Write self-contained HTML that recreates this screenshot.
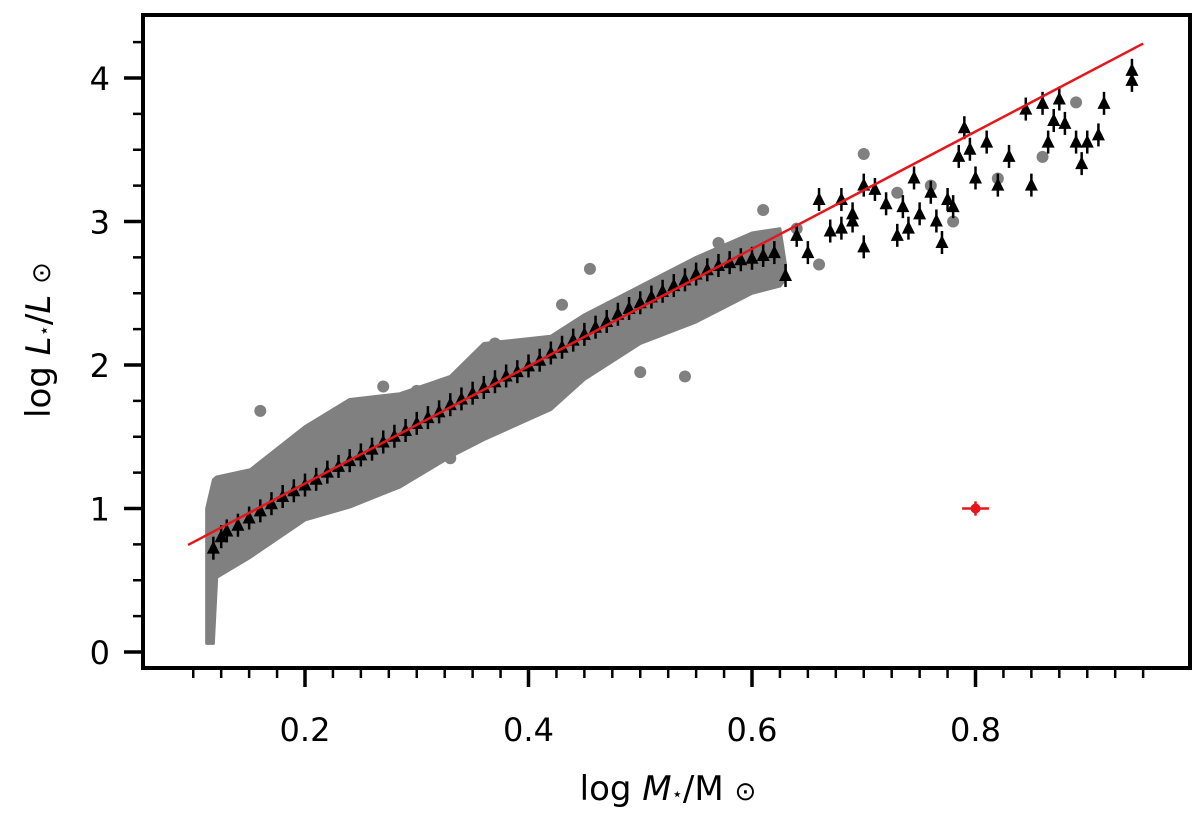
<!DOCTYPE html>
<html><head><meta charset="utf-8"><style>
body{margin:0;background:#fff;width:1200px;height:813px;overflow:hidden;font-family:"DejaVu Sans","Liberation Sans",sans-serif}
</style></head><body>
<svg id="chart" width="1200" height="813" xmlns="http://www.w3.org/2000/svg" font-family="DejaVu Sans, Liberation Sans, sans-serif"></svg>
<script>
const xTicks=[0.2,0.4,0.6,0.8];
const yTicks=[0,1,2,3,4];
const bandX=[0.112,0.118,0.121,0.151,0.2,0.24,0.285,0.33,0.36,0.42,0.45,0.5,0.55,0.6,0.625,0.63];
const bandTop=[1.0,1.2,1.22,1.27,1.57,1.76,1.8,1.92,2.15,2.2,2.35,2.55,2.75,2.92,2.95,2.7];
const bandBot=[0.06,0.06,0.52,0.66,0.92,1.01,1.15,1.36,1.48,1.69,1.9,2.15,2.3,2.5,2.55,2.6];
const grayX=[0.16,0.27,0.43,0.455,0.5,0.54,0.7,0.61,0.89,0.86,0.73,0.76,0.78,0.82,0.64,0.66,0.37,0.33,0.57,0.25,0.3];
const grayY=[1.68,1.85,2.42,2.67,1.95,1.92,3.47,3.08,3.83,3.45,3.2,3.25,3.0,3.3,2.95,2.7,2.15,1.35,2.85,1.7,1.82];
const triX=[0.118,0.125,0.13,0.14,0.15,0.16,0.17,0.18,0.19,0.2,0.21,0.22,0.23,0.24,0.25,0.26,0.27,0.28,0.29,0.3,0.31,0.32,0.33,0.34,0.35,0.36,0.37,0.38,0.39,0.4,0.41,0.42,0.43,0.44,0.45,0.46,0.47,0.48,0.49,0.5,0.51,0.52,0.53,0.54,0.55,0.56,0.57,0.58,0.59,0.6,0.61,0.62,0.63,0.64,0.65,0.66,0.67,0.68,0.68,0.69,0.69,0.7,0.7,0.71,0.72,0.73,0.735,0.74,0.745,0.75,0.76,0.765,0.77,0.775,0.78,0.785,0.79,0.795,0.8,0.81,0.82,0.83,0.845,0.85,0.86,0.865,0.87,0.875,0.88,0.89,0.895,0.9,0.91,0.915,0.94,0.94];
const triY=[0.72,0.8,0.84,0.88,0.93,0.98,1.03,1.08,1.12,1.16,1.2,1.25,1.29,1.33,1.37,1.41,1.46,1.5,1.54,1.59,1.63,1.67,1.72,1.76,1.8,1.84,1.88,1.92,1.95,1.99,2.03,2.08,2.12,2.17,2.21,2.26,2.3,2.35,2.39,2.43,2.47,2.51,2.55,2.59,2.63,2.66,2.69,2.71,2.73,2.74,2.76,2.78,2.62,2.9,2.78,3.15,2.93,2.95,3.15,3.05,3.0,2.82,3.25,3.22,3.12,2.9,3.1,2.95,3.3,3.05,3.2,3.0,2.85,3.15,3.1,3.45,3.65,3.5,3.3,3.55,3.25,3.45,3.78,3.25,3.82,3.55,3.7,3.85,3.68,3.55,3.4,3.55,3.6,3.82,4.05,3.98];
const fitX=[0.0953,0.95];
const fitY=[0.746,4.24];
const refPt=[0.8,1.0];
const refErr=[0.012,0.05];

const X=v=>81.5+1117.5*v, Y=v=>652-143.5*v;
const svg=document.getElementById('chart');
const NS='http://www.w3.org/2000/svg';
function mk(t,a,p){const e=document.createElementNS(NS,t);for(const k in a)e.setAttribute(k,a[k]);(p||svg).appendChild(e);return e;}

let pts=bandX.map((x,i)=>X(x)+','+Y(bandTop[i]));
for(let i=bandX.length-1;i>=0;i--)pts.push(X(bandX[i])+','+Y(bandBot[i]));
const band=mk('polygon',{points:pts.join(' '),fill:'#808080',stroke:'#808080','stroke-width':3,'stroke-linejoin':'round'});


grayX.forEach((x,i)=>{const c=mk('circle',{cx:X(x),cy:Y(grayY[i]),r:6,fill:'#808080'});

});
triX.forEach((x,i)=>{const cx=X(x),cy=Y(triY[i]);const g=mk('g',{});


mk('line',{x1:cx,x2:cx,y1:cy-12,y2:cy+11,stroke:'#000','stroke-width':2.5},g);
mk('polygon',{points:`${cx},${cy-8} ${cx-6.5},${cy+5} ${cx+6.5},${cy+5}`,fill:'#000'},g);});
const fit=mk('line',{x1:X(fitX[0]),y1:Y(fitY[0]),x2:X(fitX[1]),y2:Y(fitY[1]),stroke:'#e8151b','stroke-width':2.5});


const rp=mk('g',{});


mk('line',{x1:X(refPt[0]-refErr[0]),x2:X(refPt[0]+refErr[0]),y1:Y(refPt[1]),y2:Y(refPt[1]),stroke:'#e8151b','stroke-width':2.5},rp);
mk('line',{x1:X(refPt[0]),x2:X(refPt[0]),y1:Y(refPt[1]-refErr[1]),y2:Y(refPt[1]+refErr[1]),stroke:'#e8151b','stroke-width':2.5},rp);
mk('circle',{cx:X(refPt[0]),cy:Y(refPt[1]),r:5,fill:'#e8151b'},rp);

const frame=mk('rect',{x:143,y:15,width:1047,height:653,fill:'none',stroke:'#000','stroke-width':4});


for(let v=0.1;v<0.951;v+=0.025){const maj=xTicks.some(t=>Math.abs(t-v)<1e-6);
mk('line',{x1:X(v),x2:X(v),y1:668,y2:668+(maj?19:10),stroke:'#000','stroke-width':maj?3.5:2.5});}
xTicks.forEach(t=>{const e=mk('text',{x:X(t),y:741,'font-size':32,'text-anchor':'middle'});e.textContent=t.toFixed(1);

});
for(let v=0;v<4.31;v+=0.25){const maj=yTicks.some(t=>Math.abs(t-v)<1e-6);
mk('line',{x1:143,x2:143-(maj?19:10),y1:Y(v),y2:Y(v),stroke:'#000','stroke-width':maj?3.5:2.5});}
yTicks.forEach(t=>{const e=mk('text',{x:110,y:Y(t)+12,'font-size':32,'text-anchor':'end'});e.textContent=t;

});
const xl=mk('text',{x:668,y:800,'font-size':34,'text-anchor':'middle'});
xl.innerHTML='log <tspan font-style="italic">M</tspan><tspan font-size="18">⋆</tspan>/M <tspan font-size="26">⊙</tspan>';


const yl=mk('text',{x:0,y:0,'font-size':34,'text-anchor':'middle',transform:'translate(50,340) rotate(-90)'});
yl.innerHTML='log <tspan font-style="italic">L</tspan><tspan font-size="18">⋆</tspan>/<tspan font-style="italic">L</tspan> <tspan font-size="26">⊙</tspan>';


</script>
</body></html>
